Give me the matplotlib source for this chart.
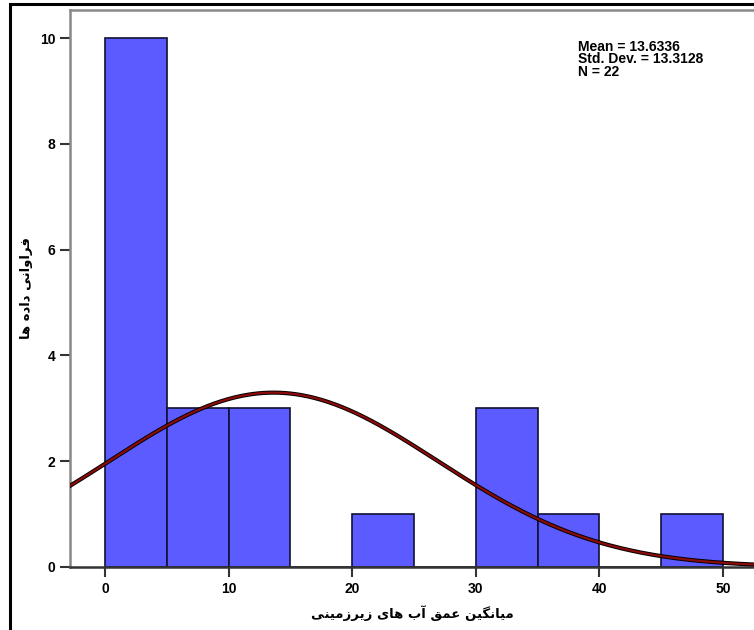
import matplotlib.pyplot as plt
import numpy as np
from matplotlib.patches import Rectangle

# histogram data (bin width 5)
bin_left = [0, 5, 10, 15, 20, 25, 30, 35, 40, 45]
counts = [10, 3, 3, 0, 1, 0, 3, 1, 0, 1]
bin_width = 5
mean_val = 13.6336
std_val = 13.3128
n_val = 22

x_label = 'میانگین عمق آب های زیرزمینی'
y_label = 'فراوانی داده ها'

# presentation forms: isolated, final, initial, medial (None = no left join)
FORMS = {
    'ا': ('\uFE8D', '\uFE8E', None, None),
    'آ': ('\uFE81', '\uFE82', None, None),
    'د': ('\uFEA9', '\uFEAA', None, None),
    'ر': ('\uFEAD', '\uFEAE', None, None),
    'ز': ('\uFEAF', '\uFEB0', None, None),
    'و': ('\uFEED', '\uFEEE', None, None),
    'ب': ('\uFE8F', '\uFE90', '\uFE91', '\uFE92'),
    'ع': ('\uFEC9', '\uFECA', '\uFECB', '\uFECC'),
    'ف': ('\uFED1', '\uFED2', '\uFED3', '\uFED4'),
    'ق': ('\uFED5', '\uFED6', '\uFED7', '\uFED8'),
    'م': ('\uFEE1', '\uFEE2', '\uFEE3', '\uFEE4'),
    'ن': ('\uFEE5', '\uFEE6', '\uFEE7', '\uFEE8'),
    'ه': ('\uFEE9', '\uFEEA', '\uFEEB', '\uFEEC'),
    'ی': ('\uFBFC', '\uFBFD', '\uFBFE', '\uFBFF'),
    'گ': ('\uFB92', '\uFB93', '\uFB94', '\uFB95'),
}


def shape(text):
    # matplotlib does no arabic shaping, so pick the joined forms by hand
    out = []
    for word in text.split(' '):
        chars = []
        for i, c in enumerate(word):
            prev = word[i - 1] if i > 0 else None
            nxt = word[i + 1] if i + 1 < len(word) else None
            join_prev = prev is not None and FORMS[prev][2] is not None
            join_next = nxt is not None and FORMS[c][2] is not None
            iso, fin, ini, med = FORMS[c]
            if join_prev and join_next:
                chars.append(med)
            elif join_prev:
                chars.append(fin)
            elif join_next:
                chars.append(ini)
            else:
                chars.append(iso)
        out.append(''.join(chars))
    return ' '.join(out)[::-1]


plt.rcParams['font.family'] = ['Liberation Sans', 'DejaVu Sans']
plt.rcParams['font.weight'] = 'bold'

fig = plt.figure(figsize=(7.54, 6.3), dpi=100)
ax = fig.add_axes([70 / 754, 63 / 630, 684 / 754, 557 / 630])

ax.bar(bin_left, counts, width=bin_width, align='edge', color='#5b5bff',
       edgecolor='#111133', linewidth=1.2, zorder=2)

xs = np.linspace(-3, 53, 400)
curve = n_val * bin_width * np.exp(-0.5 * ((xs - mean_val) / std_val) ** 2) / (std_val * np.sqrt(2 * np.pi))
ax.plot(xs, curve, color='black', lw=3.0, zorder=3)
ax.plot(xs, curve, color='#8b0a0a', lw=1.6, zorder=4)

ax.set_xlim(-2.83, 52.5)
ax.set_ylim(0, 10.53)
ax.set_xticks([0, 10, 20, 30, 40, 50])
ax.set_yticks([0, 2, 4, 6, 8, 10])
ax.tick_params(axis='both', direction='out', length=7, width=1.5, colors='#333333',
               labelsize=10, labelcolor='black')
for lab in ax.get_xticklabels() + ax.get_yticklabels():
    lab.set_fontweight('bold')

ax.spines['left'].set_color('#888888')
ax.spines['left'].set_linewidth(1.8)
ax.spines['top'].set_color('#888888')
ax.spines['top'].set_linewidth(1.8)
ax.spines['bottom'].set_color('#333333')
ax.spines['bottom'].set_linewidth(1.8)
ax.spines['right'].set_visible(False)

ax.set_xlabel(shape(x_label), family='DejaVu Sans', fontsize=9.5, fontweight='bold')
ax.set_ylabel(shape(y_label), family='DejaVu Sans', fontsize=9.5, fontweight='bold')
ax.xaxis.set_label_coords(0.5, (567 - 605) / 557)
ax.yaxis.set_label_coords((33 - 70) / 684, 0.5)

ax.text((578 - 70) / 684, (567 - 40) / 557,
        'Mean = %.4f\nStd. Dev. = %.4f\nN = %d' % (mean_val, std_val, n_val),
        transform=ax.transAxes, fontsize=10, fontweight='bold', va='top', ha='left',
        linespacing=0.85)

# outer frame
fig.patches.append(Rectangle((9.5 / 754, -0.1), 1.2, 0.1 + 626 / 630, transform=fig.transFigure,
                             fill=False, edgecolor='black', linewidth=2.2))

fig.savefig('out.png', dpi=100)
